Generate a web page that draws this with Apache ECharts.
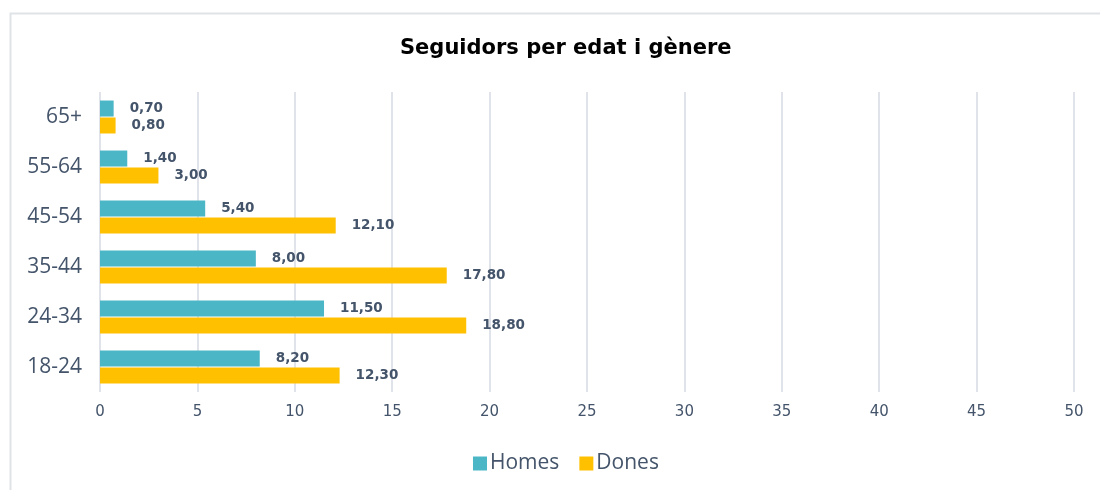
<!DOCTYPE html>
<html style="height: 100%">
<head>
    <meta charset="utf-8">
</head>
<body style="height: 100%; margin: 0; background: #fff">
    <div id="container" style="width: 1100px; height: 490px"></div>
    <script src="https://cdn.jsdelivr.net/npm/echarts@6/dist/echarts.min.js"></script>
    <script type="text/javascript">
        var categories = ['65+', '55-64', '45-54', '35-44', '24-34', '18-24'];
        var homes = [0.7, 1.4, 5.4, 8.0, 11.5, 8.2];
        var dones = [0.8, 3.0, 12.1, 17.8, 18.8, 12.3];

        var dom = document.getElementById('container');
        var myChart = echarts.init(dom);

        var textColor = '#44546a';
        var fmt = function (p) {
            return p.value.toFixed(2).replace('.', ',');
        };
        var valueLabel = {
            show: true,
            position: 'right',
            distance: 16,
            formatter: fmt,
            color: textColor,
            fontFamily: 'DejaVu Sans',
            fontWeight: 'bold',
            fontSize: 13.5
        };

        var option = {
            backgroundColor: '#fff',
            animation: false,
            graphic: [{
                type: 'rect',
                shape: { x: 10.5, y: 13.5, width: 1200, height: 600 },
                style: { fill: 'none', stroke: '#dfe3e8', lineWidth: 2 },
                silent: true
            }],
            title: {
                text: 'Seguidors per edat i gènere',
                left: 395,
                top: 33,
                textStyle: {
                    fontFamily: 'DejaVu Sans',
                    fontWeight: 'bold',
                    fontSize: 21,
                    color: '#000'
                }
            },
            legend: {
                bottom: 11,
                left: 468,
                itemWidth: 14,
                itemHeight: 14,
                itemGap: 20,
                icon: 'rect',
                data: ['Homes', 'Dones'],
                textStyle: {
                    fontFamily: 'Open Sans',
                    fontSize: 21,
                    color: textColor,
                    padding: [0, 0, 0, -2]
                }
            },
            grid: {
                left: 100,
                right: 26,
                top: 92,
                bottom: 98
            },
            xAxis: {
                type: 'value',
                min: 0,
                max: 50,
                interval: 5,
                axisLine: { show: false },
                axisTick: { show: false },
                splitLine: { lineStyle: { color: '#e0e4ea', width: 2 } },
                axisLabel: {
                    margin: 13,
                    color: textColor,
                    fontFamily: 'DejaVu Sans',
                    fontSize: 15
                }
            },
            yAxis: {
                type: 'category',
                inverse: true,
                data: categories,
                axisLine: { show: false },
                axisTick: { show: false },
                axisLabel: {
                    margin: 18,
                    color: textColor,
                    fontFamily: 'Open Sans',
                    fontSize: 21
                }
            },
            series: [{
                name: 'Homes',
                type: 'bar',
                barWidth: 16,
                barGap: '6%',
                itemStyle: { color: '#4bb6c6' },
                label: valueLabel,
                data: homes
            }, {
                name: 'Dones',
                type: 'bar',
                barWidth: 16,
                itemStyle: { color: '#ffc000' },
                label: valueLabel,
                data: dones
            }]
        };
        myChart.setOption(option, true);
    </script>
</body>
</html>
